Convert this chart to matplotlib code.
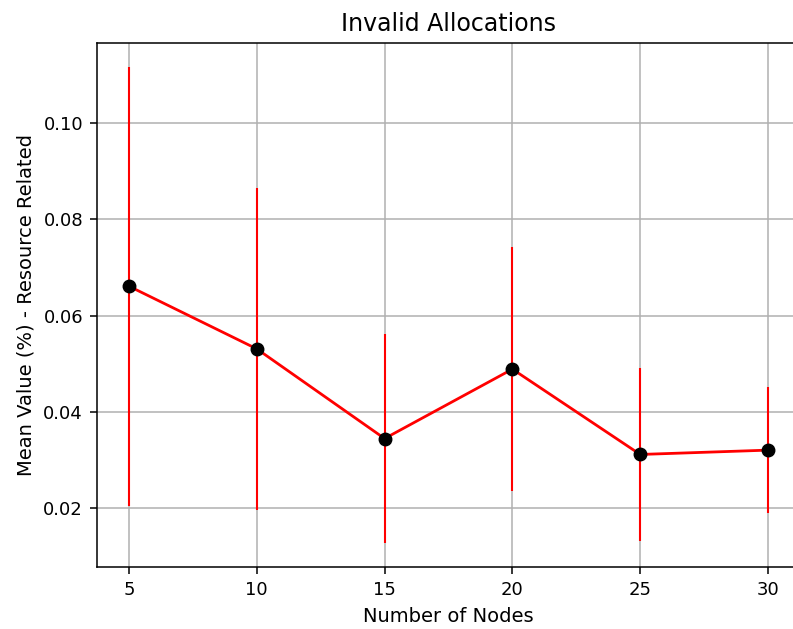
import matplotlib
matplotlib.use("Agg")
import matplotlib.pyplot as plt

nodes = [5, 10, 15, 20, 25, 30]
means = [0.0661, 0.0531, 0.0345, 0.0489, 0.0312, 0.0321]
errors = [0.0455, 0.0334, 0.0217, 0.0253, 0.0180, 0.0131]

fig = plt.figure(figsize=(7.93, 6.29), dpi=100)
ax = fig.add_axes([97/793, 1-567/629, (800-97)/793, (567-43)/629])
ax.errorbar(nodes, means, yerr=errors, color='red', ecolor='red', linewidth=2,
            elinewidth=1.5, marker='o', markersize=9, markerfacecolor='black',
            markeredgecolor='black', zorder=3)
ax.set_xticks(nodes)
ax.grid(True, linewidth=1.1)
for s in ax.spines.values():
    s.set_linewidth(1.1)
ax.set_title('Invalid Allocations', fontsize=17, pad=8.4)
ax.set_xlabel('Number of Nodes', fontsize=14, labelpad=5.6)
ax.set_ylabel('Mean Value (%) - Resource Related', fontsize=14, labelpad=5.6)
ax.tick_params(labelsize=13, length=5, width=1.1, pad=5)
fig.savefig('out.png', dpi=100)
